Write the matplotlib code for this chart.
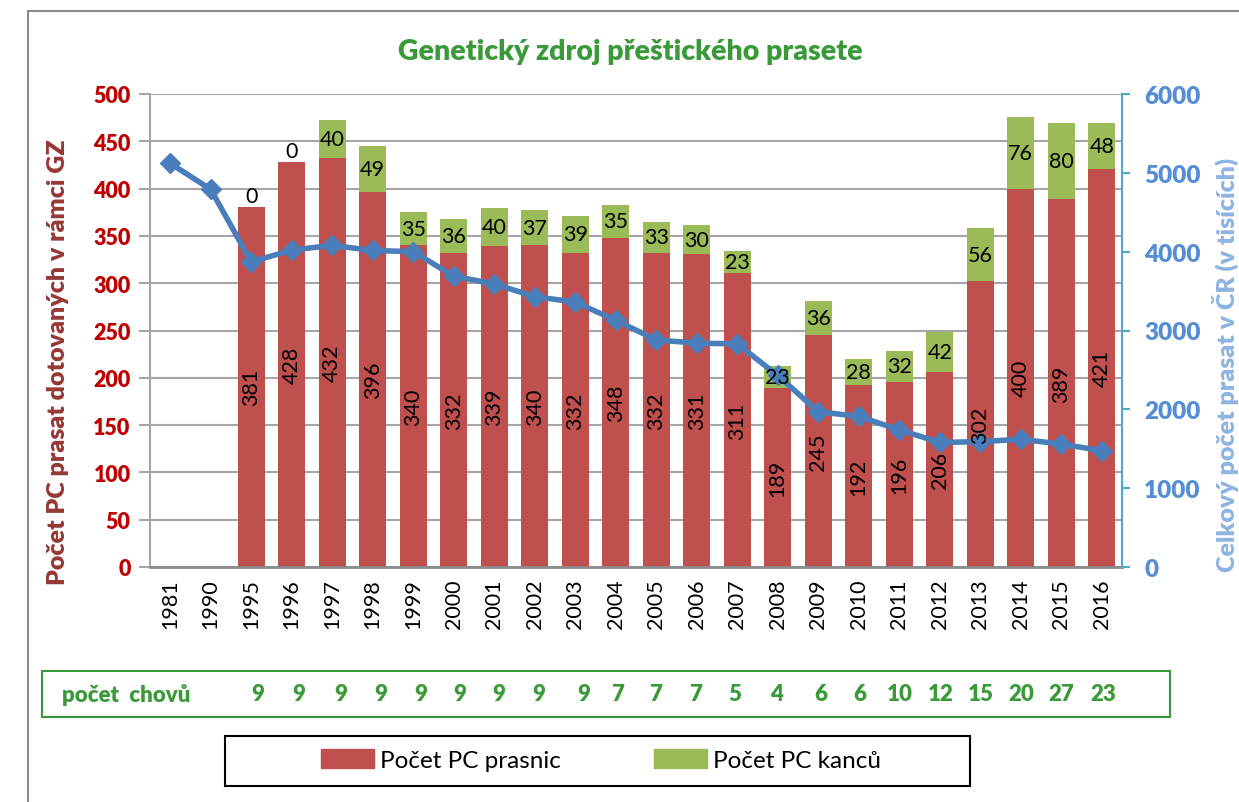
import matplotlib
matplotlib.use("Agg")
import matplotlib.pyplot as plt
import numpy as np
from matplotlib.patches import Rectangle, Patch

plt.rcParams['font.family'] = ['Lato', 'DejaVu Sans']

# data
years = ['1981', '1990', '1995', '1996', '1997', '1998', '1999', '2000', '2001', '2002', '2003',
         '2004', '2005', '2006', '2007', '2008', '2009', '2010', '2011', '2012', '2013', '2014',
         '2015', '2016']
prasnice = [np.nan, np.nan, 381, 428, 432, 396, 340, 332, 339, 340, 332, 348, 332, 331, 311,
            189, 245, 192, 196, 206, 302, 400, 389, 421]
kanci = [np.nan, np.nan, 0, 0, 40, 49, 35, 36, 40, 37, 39, 35, 33, 30, 23,
         23, 36, 28, 32, 42, 56, 76, 80, 48]
celkem = [5120, 4790, 3870, 4020, 4080, 4015, 4000, 3690, 3590, 3430, 3360, 3130, 2880, 2840, 2830,
          2430, 1970, 1910, 1740, 1580, 1590, 1620, 1560, 1475]
chovy = ['9', '9', '9', '9', '9', '9', '9', '9', '9', '7', '7', '7', '5', '4', '6', '6',
         '10', '12', '15', '20', '27', '23']

c_red = '#C0504D'
c_green = '#9BBB59'
c_line = '#4A7EBB'
c_title = '#3A9A3A'

W, H = 1239, 803
fig = plt.figure(figsize=(W / 100, H / 100), dpi=100)


def fx(px):
    return px / W


def fy(py):
    return 1 - py / H


ax = fig.add_axes([fx(150), fy(568), fx(1122) - fx(150), fy(95) - fy(568)])
ax2 = ax.twinx()

n = len(years)
x = np.arange(n)
p = np.array(prasnice, dtype=float)
k = np.array(kanci, dtype=float)
bw = 0.67

ax.bar(x, p, bw, color=c_red, zorder=2)
ax.bar(x, k, bw, bottom=p, color=c_green, zorder=2)

ax.set_xlim(-0.5, n - 0.5)
ax.set_ylim(0, 500)
ax.set_yticks(np.arange(0, 501, 50))
ax.yaxis.grid(True, color='#A6A6A6', lw=1.5, zorder=0)
ax.set_axisbelow(True)
ax.set_xticks(x)
ax.set_xticklabels(years, rotation=90, fontsize=15.5)
ax.tick_params(axis='x', length=0, pad=8)
ax.tick_params(axis='y', colors='#A6A6A6', length=8, width=1.5, labelcolor='#C00000',
               labelsize=15.5, pad=6)
plt.setp(ax.get_yticklabels(), fontweight='heavy')
for s in ['top', 'right']:
    ax.spines[s].set_visible(False)
ax.spines['left'].set_color('#A6A6A6')
ax.spines['left'].set_linewidth(1.5)
ax.spines['bottom'].set_color('#8C8C8C')
ax.spines['bottom'].set_linewidth(2)
ax.set_ylabel('Počet PC prasat dotovaných v rámci GZ', color='#953735', fontsize=18,
              fontweight='heavy')
ax.yaxis.set_label_coords(-0.083, 0.435)

ax2.plot(x, celkem, color=c_line, lw=4, marker='D', markersize=10, zorder=3)
ax2.set_ylim(0, 6000)
ax2.set_yticks(np.arange(0, 6001, 1000))
ax2.tick_params(axis='y', colors='#4BACC6', length=6, width=1.5, labelcolor='#558ED5',
                labelsize=17.5, pad=10)
plt.setp(ax2.get_yticklabels(), fontweight='heavy')
for s in ['top', 'left', 'bottom']:
    ax2.spines[s].set_visible(False)
ax2.spines['right'].set_color('#4BACC6')
ax2.spines['right'].set_linewidth(1.5)
ax2.set_ylabel('Celkový počet prasat v ČR (v tisících)', color='#8DB4E2', fontsize=18,
               fontweight='heavy')
ax2.yaxis.set_label_coords(1.092, 0.43)

# data labels
for i in range(n):
    if np.isnan(p[i]):
        continue
    ax2.text(x[i], p[i] / 2, '%d' % p[i], rotation=90, ha='center', va='center',
             fontsize=15.5, color='black', zorder=5, transform=ax.transData)
    if k[i] == 0:
        ax2.text(x[i], p[i] + 1, '0', ha='center', va='bottom', fontsize=15.5, zorder=5,
                 transform=ax.transData)
    else:
        ax2.text(x[i], p[i] + k[i] / 2, '%d' % k[i], ha='center', va='center',
                 fontsize=15.5, zorder=5, transform=ax.transData)

fig.text(fx(630), fy(52), 'Genetický zdroj přeštického prasete', ha='center', va='center',
         fontsize=20.5, fontweight='heavy', color=c_title)

# outer frame
fig.patches.append(Rectangle((fx(28), fy(900)), 1.0, fy(12) - fy(900), transform=fig.transFigure,
                             fill=False, edgecolor='#8C8C8C', lw=1.5))

# table of farm counts
fig.patches.append(Rectangle((fx(42), fy(718)), fx(1170) - fx(42), fy(672) - fy(718),
                             transform=fig.transFigure, fill=False, edgecolor=c_title, lw=1.5))
fig.text(fx(62), fy(695), 'počet  chovů', ha='left', va='center', fontsize=16,
         fontweight='heavy', color=c_title)
chovy_px = [258, 299, 341, 381, 421, 460, 499, 539, 584, 618, 656, 696, 735, 776, 821, 860,
            900, 941, 981, 1021, 1061, 1103]
for xp, t in zip(chovy_px, chovy):
    fig.text(fx(xp), fy(695), t, ha='center', va='center', fontsize=16, fontweight='heavy',
             color=c_title)

# legend
fig.patches.append(Rectangle((fx(225), fy(787)), fx(970) - fx(225), fy(737) - fy(787),
                             transform=fig.transFigure, fill=False, edgecolor='black', lw=1.5))
handles = [Patch(color=c_red, label='Počet PC prasnic'), Patch(color=c_green, label='Počet PC kanců')]
fig.legend(handles=handles, loc='center', bbox_to_anchor=(fx(601), fy(761)), ncol=2,
           frameon=False, fontsize=17.5, handlelength=2.2, handleheight=0.8,
           columnspacing=3.8, handletextpad=0.25)

fig.savefig('out.png', dpi=100)
